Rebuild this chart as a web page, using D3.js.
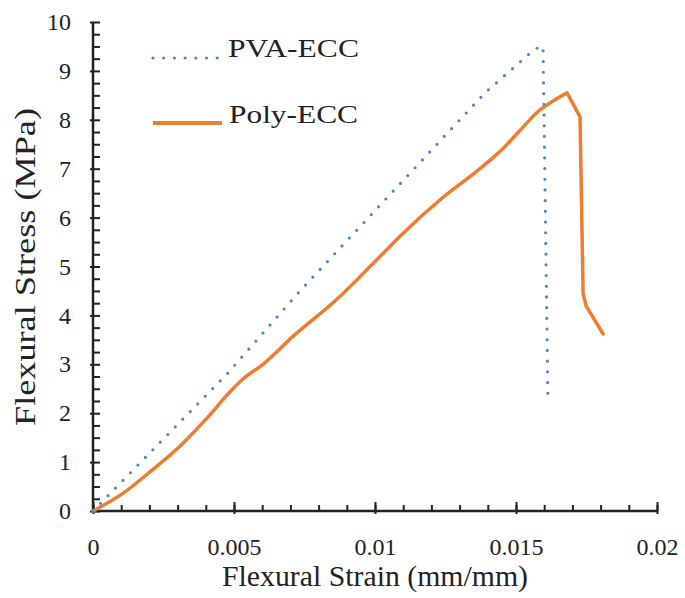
<!DOCTYPE html>
<html>
<head>
<meta charset="utf-8">
<script src="https://cdn.jsdelivr.net/npm/d3@7"></script>
<style>
  html, body { margin: 0; padding: 0; background: #fff; }
  svg { display: block; }
  text { font-family: "Liberation Serif", "Times New Roman", serif; fill: #222; }
</style>
</head>
<body>
<svg id="chart" width="685" height="598"></svg>
<script>
// ---- data ----
const pvaStrain  = [0, 0.00475, 0.00734, 0.0139, 0.01567, 0.01596, 0.01613];
const pvaStress  = [0, 2.8, 4.5, 8.55, 9.45, 9.5, 2.37];
const polyStrain = [0, 0.00106, 0.00202, 0.00309, 0.00404, 0.00496, 0.00532, 0.00603, 0.00709, 0.00865,
                    0.0100, 0.01089, 0.0123, 0.01372, 0.01455, 0.01514, 0.0158, 0.0163, 0.01681, 0.01727,
                    0.01738, 0.01748, 0.01809];
const polyStress = [0, 0.36, 0.8, 1.33, 1.9, 2.5, 2.7, 3.0, 3.57, 4.33,
                    5.1, 5.62, 6.36, 7.0, 7.42, 7.78, 8.18, 8.38, 8.55, 8.06,
                    4.45, 4.2, 3.62];
const xTicks = [0, 0.005, 0.01, 0.015, 0.02];
const xTickLabels = ["0", "0.005", "0.01", "0.015", "0.02"];
const yTicks = [0, 1, 2, 3, 4, 5, 6, 7, 8, 9, 10];
const seriesNames = ["PVA-ECC", "Poly-ECC"];
const xTitle = "Flexural Strain (mm/mm)";
const yTitle = "Flexural Stress (MPa)";

// ---- layout ----
const svg = d3.select("#chart");
const x = d3.scaleLinear().domain([0, 0.02]).range([93, 657]);
const y = d3.scaleLinear().domain([0, 10]).range([511, 22]);
const blue = "#4F87C9", orange = "#ED7D31";

// minor ticks
const xMinor = d3.range(0, 21).map(i => i * 0.001);
const yMinor = d3.range(0, 41).map(i => i * 0.25);

const gx = svg.append("g").attr("transform", `translate(0,${y(0)})`);
gx.append("g").call(d3.axisTop(x).tickValues(xMinor).tickSize(6).tickFormat(""))
  .call(g => g.select(".domain").remove())
  .call(g => g.selectAll("line").attr("stroke", "#222").attr("stroke-width", 2));
gx.append("g").call(d3.axisBottom(x).tickValues(xTicks).tickSize(3).tickFormat((d, i) => xTickLabels[i]).tickPadding(24))
  .call(g => g.select(".domain").remove())
  .call(g => g.selectAll("line").attr("stroke", "#222").attr("stroke-width", 2))
  .call(g => g.selectAll("text").attr("font-size", 24).attr("font-family", "Liberation Serif").attr("fill", "#222"));
gx.append("g").call(d3.axisTop(x).tickValues(xTicks).tickSize(9).tickFormat(""))
  .call(g => g.select(".domain").remove())
  .call(g => g.selectAll("line").attr("stroke", "#222").attr("stroke-width", 2));

const gy = svg.append("g").attr("transform", `translate(${x(0)},0)`);
gy.append("g").call(d3.axisRight(y).tickValues(yMinor).tickSize(7).tickFormat(""))
  .call(g => g.select(".domain").remove())
  .call(g => g.selectAll("line").attr("stroke", "#222").attr("stroke-width", 2));
gy.append("g").call(d3.axisLeft(y).tickValues(yTicks).tickSize(3).tickPadding(19).tickFormat(d3.format("d")))
  .call(g => g.select(".domain").remove())
  .call(g => g.selectAll("line").attr("stroke", "#222").attr("stroke-width", 2))
  .call(g => g.selectAll("text").attr("font-size", 24).attr("font-family", "Liberation Serif").attr("fill", "#222"));

// axis lines
svg.append("line").attr("x1", x(0)).attr("x2", x(0.02)).attr("y1", y(0)).attr("y2", y(0))
  .attr("stroke", "#222").attr("stroke-width", 2.5);
svg.append("line").attr("x1", x(0)).attr("x2", x(0)).attr("y1", y(0)).attr("y2", y(10))
  .attr("stroke", "#222").attr("stroke-width", 2.5);

// series
const line = d3.line().x(d => x(d[0])).y(d => y(d[1]));
const smooth = d3.line().x(d => x(d[0])).y(d => y(d[1])).curve(d3.curveMonotoneX);
const pva = pvaStrain.map((s, i) => [s, pvaStress[i]]);
const poly = polyStrain.map((s, i) => [s, polyStress[i]]);
const peakIdx = d3.maxIndex(polyStress);
const polyRise = poly.slice(0, peakIdx + 1);
const polyFall = poly.slice(peakIdx);

const polyPath = smooth(polyRise) + line(polyFall).replace(/^M/, "L");
svg.append("path").attr("d", polyPath)
  .attr("fill", "none").attr("stroke", orange).attr("stroke-width", 3.5)
  .attr("stroke-linejoin", "round").attr("stroke-linecap", "round");
svg.append("path").datum(pva).attr("d", line)
  .attr("fill", "none").attr("stroke", blue).attr("stroke-width", 3.2)
  .attr("stroke-dasharray", "0 10.7").attr("stroke-linecap", "round");

// legend
const lg = svg.append("g");
lg.append("line").attr("x1", 153).attr("x2", 218).attr("y1", 58).attr("y2", 58)
  .attr("stroke", blue).attr("stroke-width", 3.2).attr("stroke-dasharray", "0 10.7").attr("stroke-linecap", "round");
lg.append("text").attr("x", 228).attr("y", 57).attr("font-size", 25).text(seriesNames[0])
  .attr("textLength", 131).attr("lengthAdjust", "spacingAndGlyphs");
lg.append("line").attr("x1", 153).attr("x2", 222).attr("y1", 123).attr("y2", 123)
  .attr("stroke", orange).attr("stroke-width", 4);
lg.append("text").attr("x", 229).attr("y", 123).attr("font-size", 25).text(seriesNames[1])
  .attr("textLength", 129).attr("lengthAdjust", "spacingAndGlyphs");

// titles
svg.append("text").attr("x", 375).attr("y", 586).attr("text-anchor", "middle")
  .attr("font-size", 30).text(xTitle)
  .attr("textLength", 306).attr("lengthAdjust", "spacingAndGlyphs");
svg.append("text").attr("transform", `translate(35,267) rotate(-90)`).attr("text-anchor", "middle")
  .attr("font-size", 30).text(yTitle)
  .attr("textLength", 318).attr("lengthAdjust", "spacingAndGlyphs");
</script>
</body>
</html>
